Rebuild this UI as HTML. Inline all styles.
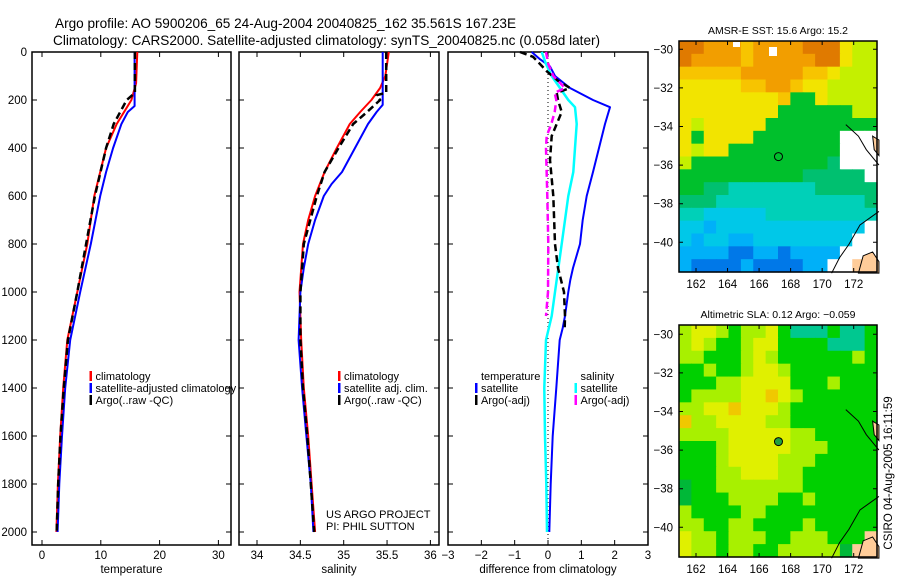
<!DOCTYPE html>
<html><head><meta charset="utf-8"><style>
body{margin:0;background:#fff;}
svg{display:block;font-family:"Liberation Sans",sans-serif;}
</style></head><body>
<svg id="chart" width="900" height="580" viewBox="0 0 900 580" xmlns="http://www.w3.org/2000/svg">
<text x="55" y="28" font-size="13.6">Argo profile: AO 5900206_65 24-Aug-2004 20040825_162 35.561S 167.23E</text>
<text x="53" y="45" font-size="13.6">Climatology: CARS2000. Satellite-adjusted climatology: synTS_20040825.nc (0.058d later)</text>
<g id="g"></g>
</svg>
<script>
// ---------- data ----------
const tClimDepth = [0,130,200,300,400,600,800,1000,1200,1400,1600,1800,2000];
const tClimVal   = [16.2,16.0,15.2,12.7,10.9,8.9,7.7,6.0,4.3,3.6,3.1,2.7,2.45];
const tSatDepth  = [0,225,250,300,400,500,600,800,1000,1200,1400,1600,1800,2000];
const tSatVal    = [15.75,15.75,14.6,13.5,12.1,10.9,9.9,8.3,6.5,4.8,3.95,3.4,2.95,2.65];
const tArgoDepth = [0,170,200,250,300,400,600,800,1000,1200,1400,1600,1800,2000];
const tArgoVal   = [15.8,15.8,14.4,13.3,12.2,10.9,9.0,7.5,6.0,4.4,3.7,3.15,2.75,2.5];

const sClimDepth = [0,100,150,200,250,300,400,500,600,700,800,1000,1200,1400,1600,1800,2000];
const sClimVal   = [35.52,35.48,35.42,35.32,35.19,35.07,34.92,34.78,34.67,34.59,34.53,34.49,34.51,34.54,34.59,34.63,34.67];
const sSatDepth  = [0,220,250,300,400,500,550,600,700,800,900,1000,1200,1400,1600,1800,2000];
const sSatVal    = [35.45,35.45,35.38,35.28,35.13,34.98,34.86,34.77,34.67,34.59,34.54,34.50,34.48,34.52,34.57,34.62,34.65];
const sArgoDepth = [0,170,180,200,250,300,400,500,600,800,1000,1200,1400,1600,1800,2000];
const sArgoVal   = [35.49,35.49,35.38,35.42,35.27,35.11,34.94,34.78,34.69,34.54,34.50,34.50,34.53,34.58,34.62,34.66];

const dTSatDepth = [0,30,60,100,150,200,230,300,400,500,600,700,800,900,950,1000,1100,1150,1200,1400,1600,1800,2000];
const dTSatVal   = [-0.49,-0.24,0.06,0.21,0.66,1.35,1.86,1.71,1.53,1.35,1.16,1.04,0.96,0.75,0.67,0.61,0.51,0.44,0.35,0.25,0.14,0.08,0.04];
const dTArgoDepth = [0,20,50,80,120,150,170,200,250,300,350,450,600,800,900,1000,1100,1150];
const dTArgoVal   = [-0.84,-0.45,-0.24,-0.04,0.3,0.66,0.26,0.3,0.41,0.26,0.11,0.06,0.16,0.21,0.3,0.48,0.51,0.5];
const dSSatDepth = [0,50,100,150,200,230,300,400,500,600,800,1000,1100,1200,1400,1600,1800,2000];
const dSSatVal   = [-0.19,-0.06,0.11,0.36,0.61,0.81,0.86,0.81,0.76,0.61,0.41,0.21,0.11,-0.06,-0.11,-0.09,-0.05,-0.03];
const dSArgoDepth = [0,50,100,150,170,200,250,300,350,400,600,800,1000,1100];
const dSArgoVal   = [-0.06,0.01,0.16,0.51,0.2,0.25,0.2,0.1,-0.04,-0.06,-0.02,0.01,0.0,-0.06];

const depthTicks = [0,200,400,600,800,1000,1200,1400,1600,1800,2000];
const tTicks = [0,10,20,30];
const sTicks = [34,34.5,35,35.5,36];
const dTicks = [-3,-2,-1,0,1,2,3];
const lonTicks = [162,164,166,168,170,172];
const latTicks = [-30,-32,-34,-36,-38,-40];
const argoLon = 167.23, argoLat = -35.56;

const sstGrid = [
"0011121111000344","0111121111100344","2222211111223444","3333322112334444",
"3333333325534444","3333333355555544","3433333555555555","3533335555555www",
"3433555555555www","4555555555556www","555555555566666w","5566777777766666",
"6667777777777776","7788888777777777","889888888888888w","89889988888888ww",
"9999aa99a9999www","9aaaa9aaaa99wwll"];
const slaGrid = [
"yYYygyyYgtttgttg","yYyggyYYggggtttg","yygggyYyggggggyg","ggyggyYYyggggggg",
"gggyyYYYYgggyggg","gyyyyYYoYygggggg","yyYYoYYYyggggggg","oyyYYYYyyggggggg",
"yyyyYYYYYyyggggg","gggyYYYYYyyygggg","gggyYYYYyyyggggg","gggyyYYYyygggggg",
"Gggyyyyyyygggggg","Ggggyyyyggyggggg","yggggyyggggggggg","yyggyyggggyggggg",
"Yyygyyyggyyygggl","YyygyyggyyyyyGll"];

// ---------- drawing ----------
const NS="http://www.w3.org/2000/svg";
const G=document.getElementById('g');
function el(tag,attrs,parent){const e=document.createElementNS(NS,tag);for(const k in attrs)e.setAttribute(k,attrs[k]);(parent||G).appendChild(e);return e;}
const TOP=52,BOT=545;
function yD(d){return TOP+d*0.24;}

const panels=[
 {name:'temperature',x0:32,x1:231,ticks:tTicks,title:'temperature'},
 {name:'salinity',x0:239,x1:439,ticks:sTicks,title:'salinity'},
 {name:'difference',x0:448,x1:648,ticks:dTicks,title:'difference from climatology'}];
const xT=v=>42+v*5.88, xS=v=>257+(v-34)*86.7, xDf=v=>548+v*33.33;
const scales=[xT,xS,xDf];

panels.forEach((p,i)=>{
  const sc=scales[i];
  const f=el('rect',{x:p.x0,y:TOP,width:p.x1-p.x0,height:BOT-TOP,fill:'none',stroke:'#000','stroke-width':1.5});
  
  
  p.ticks.forEach(t=>{
    const x=sc(t);
    const tk=el('path',{d:`M${x},${BOT}v-5M${x},${TOP}v5`,stroke:'#000','stroke-width':1});
    
    
    const lb=el('text',{x:x,y:559,'font-size':11.5,'text-anchor':'middle'});
    lb.textContent=(t<0?'\u2212'+(-t):String(t));
    
    
  });
  depthTicks.forEach(d=>{
    const y=yD(d);
    const tk=el('path',{d:`M${p.x0},${y}h5M${p.x1},${y}h-5`,stroke:'#000','stroke-width':1});
    
    
  });
  const tt=el('text',{x:(p.x0+p.x1)/2,y:573,'font-size':11.5,'text-anchor':'middle'});
  tt.textContent=p.title;
  
  
});
depthTicks.forEach(d=>{
  const lb=el('text',{x:27,y:yD(d)+4,'font-size':11.5,'text-anchor':'end'});
  lb.textContent=String(d);
  
  
});
const zl=el('line',{x1:xDf(0),x2:xDf(0),y1:TOP+2,y2:BOT-2,stroke:'#000','stroke-width':1,'stroke-dasharray':'1,3'});



function line(depths,vals,sc,color,w,dash,name){
  const pts=depths.map((d,k)=>sc(vals[k]).toFixed(1)+','+yD(d).toFixed(1)).join(' ');
  const a={points:pts,fill:'none',stroke:color,'stroke-width':w,'stroke-linejoin':'round'};
  if(dash)a['stroke-dasharray']=dash;
  const e=el('polyline',a);
  
  
}
line(tClimDepth,tClimVal,xT,'#f00',2,null,'temperature-climatology-line');
line(tSatDepth,tSatVal,xT,'#00f',2,null,'temperature-satellite-line');
line(tArgoDepth,tArgoVal,xT,'#000',2.5,'7,4','temperature-argo-line');
line(sClimDepth,sClimVal,xS,'#f00',2,null,'salinity-climatology-line');
line(sSatDepth,sSatVal,xS,'#00f',2,null,'salinity-satellite-line');
line(sArgoDepth,sArgoVal,xS,'#000',2.5,'7,4','salinity-argo-line');
line(dTSatDepth,dTSatVal,xDf,'#00f',2,null,'diff-temperature-satellite-line');
line(dSSatDepth,dSSatVal,xDf,'#0ff',2.5,null,'diff-salinity-satellite-line');
line(dTArgoDepth,dTArgoVal,xDf,'#000',2.5,'7,4','diff-temperature-argo-line');
line(dSArgoDepth,dSArgoVal,xDf,'#f0f',2.5,'7,4','diff-salinity-argo-line');

function legend(x,y,items,prefix){
  items.forEach((it,k)=>{
    const yy=y+k*12;
    if(it[1]){
      const b=el('rect',{x:x,y:yy-9,width:2.5,height:10,fill:it[1]});
      
      
    }
    const t=el('text',{x:x+6,y:yy,'font-size':11});
    t.textContent=it[0];
    
    
  });
}
legend(89.5,380,[['climatology','#f00'],['satellite-adjusted climatology','#00f'],['Argo(..raw -QC)','#000']],'temperature');
legend(338,380,[['climatology','#f00'],['satellite adj. clim.','#00f'],['Argo(..raw -QC)','#000']],'salinity');
legend(475,380,[['temperature',null],['satellite','#00f'],['Argo(-adj)','#000']],'diff-temperature');
legend(574.5,380,[['salinity',null],['satellite','#0ff'],['Argo(-adj)','#f0f']],'diff-salinity');
[['US ARGO PROJECT',518],['PI: PHIL SUTTON',530]].forEach(a=>{
  const t=el('text',{x:326,y:a[1],'font-size':11});t.textContent=a[0];
  
  
});

// ---------- maps ----------
const sstColors={'0':'#e07a00','1':'#f29e00','2':'#f7c400','3':'#f2e400','4':'#c4f000','5':'#00c02c','6':'#00c070','7':'#00d0b8','8':'#00c8e8','9':'#00b0f8','a':'#0078e8','w':'#ffffff','l':'#ffcc99'};
const slaColors={'g':'#00d000','G':'#00b838','y':'#a8f000','Y':'#e0f000','o':'#f0c800','t':'#00c890','l':'#ffcc99'};
function drawMap(m){
  const lonX=v=>696+(v-162)*15.77, latY=v=>m.y30+(-30-v)*19.3;
  const grid=m.grid, rows=grid.length, cols=grid[0].length;
  const cw=(m.x1-m.x0)/cols, ch=(m.y1-m.y0)/rows;
  grid.forEach((row,r)=>{for(let c=0;c<cols;c++){
    const cell=el('rect',{x:(m.x0+c*cw).toFixed(2),y:(m.y0+r*ch).toFixed(2),width:(cw+0.6).toFixed(2),height:(ch+0.6).toFixed(2),fill:m.colors[row[c]]});
    
    
  }});
  m.extra && m.extra(lonX,latY);
  const fr=el('rect',{x:m.x0,y:m.y0,width:m.x1-m.x0,height:m.y1-m.y0,fill:'none',stroke:'#000','stroke-width':1.5});
  
  
  lonTicks.forEach(v=>{
    const x=lonX(v);
    const tk=el('path',{d:`M${x},${m.y0}v4M${x},${m.y1}v-4`,stroke:'#000'});
    
    
    const t=el('text',{x:x,y:m.y1+16,'font-size':11.5,'text-anchor':'middle'});t.textContent=String(v);
    
    
  });
  latTicks.forEach(v=>{
    const y=latY(v);
    const tk=el('path',{d:`M${m.x0},${y}h4M${m.x1},${y}h-4`,stroke:'#000'});
    
    
    const t=el('text',{x:673,y:y+4,'font-size':11.5,'text-anchor':'end'});t.textContent='\u2212'+(-v);
    
    
  });
  const tt=el('text',{x:778,y:m.y0-7,'font-size':10.5,'text-anchor':'middle'});tt.textContent=m.title;
  
  
  const mk=el('circle',{cx:lonX(argoLon),cy:latY(argoLat),r:4,fill:m.markerFill,stroke:'#000','stroke-width':1});
  
  
}
function coast(lonX,latY,name){
  const c1=el('polyline',{points:`${lonX(171.5)},${latY(-33.9)} ${lonX(172.3)},${latY(-34.5)} ${lonX(172.8)},${latY(-35.2)} ${lonX(173.6)},${latY(-36)}`,fill:'none',stroke:'#000','stroke-width':1});
  
  
  const c2=el('polyline',{points:`${lonX(173.6)},${latY(-38.4)} ${lonX(172.4)},${latY(-39.1)} ${lonX(171.7)},${latY(-40.1)} ${lonX(171.1)},${latY(-40.8)} ${lonX(170.6)},${latY(-41.6)}`,fill:'none',stroke:'#000','stroke-width':1});
  
  
  const l=el('path',{d:`M${lonX(172.3)},${latY(-41.6)} L${lonX(172.6)},${latY(-40.7)} L${lonX(173.2)},${latY(-40.5)} L${lonX(173.6)},${latY(-41)} L${lonX(173.6)},${latY(-41.6)}Z`,fill:'#ffcc99',stroke:'#000','stroke-width':1});
  
  
  const l2=el('path',{d:`M${lonX(173.2)},${latY(-34.5)} L${lonX(173.6)},${latY(-34.7)} L${lonX(173.6)},${latY(-35.5)} L${lonX(173.3)},${latY(-35.2)}Z`,fill:'#ffcc99',stroke:'#000','stroke-width':1});
  
  
}
drawMap({name:'sst-map',x0:679,x1:877,y0:41,y1:272,y30:49.3,grid:sstGrid,colors:sstColors,title:'AMSR-E SST: 15.6 Argo: 15.2',markerFill:'none',
  extra:(lonX,latY)=>{
    const a=el('rect',{x:733,y:42,width:7,height:5,fill:'#fff'});
    
    
    const b=el('rect',{x:769,y:47,width:8,height:9,fill:'#fff'});
    
    
    coast(lonX,latY,'sst-map');
  }});
drawMap({name:'sla-map',x0:679,x1:877,y0:325,y1:557,y30:334.3,grid:slaGrid,colors:slaColors,title:'Altimetric SLA: 0.12 Argo: \u22120.059',markerFill:'#20a040',
  extra:(lonX,latY)=>coast(lonX,latY,'sla-map')});
const st=el('text',{x:0,y:0,'font-size':11.5,'text-anchor':'middle',transform:'translate(892,473) rotate(-90)'});
st.textContent='CSIRO 04-Aug-2005 16:11:59';


</script>
</body></html>
